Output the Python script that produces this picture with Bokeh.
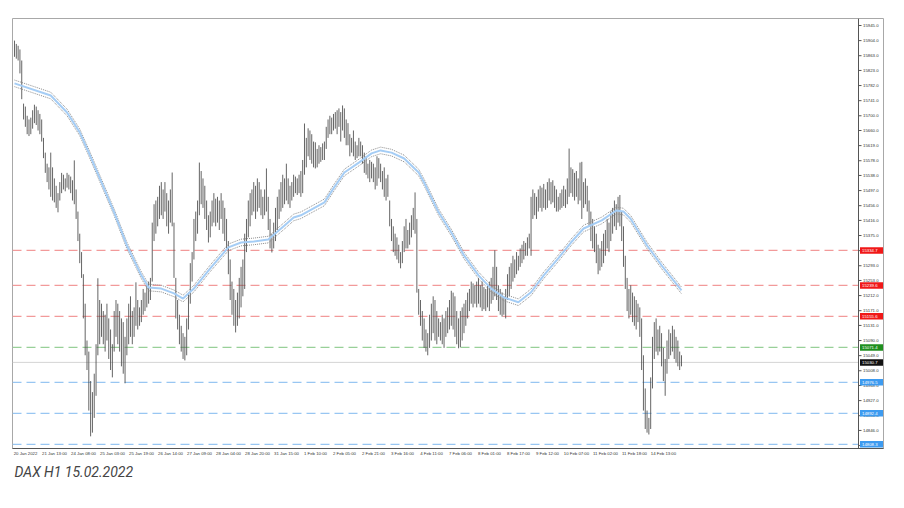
from bokeh.plotting import figure
from bokeh.models import FixedTicker, Range1d, Title, ColumnDataSource
from bokeh.core.properties import value
from bokeh.embed import file_html
from bokeh.resources import INLINE

# ---- data (DAX H1 bars, index = hourly bar number) ----
highs = [
    15904, 15895, 15890, 15880, 15850,
    15733, 15725, 15700, 15690, 15695, 15715, 15730, 15725, 15715, 15705, 15690,
    15640, 15600, 15570, 15560, 15600, 15560, 15530, 15510, 15490, 15520, 15545, 15540, 15530, 15545, 15540, 15535, 15525, 15579,
    15500, 15440, 15380, 15330, 15270, 15190, 15090, 15060, 14980, 14950,
    15000, 15080, 15259, 15200, 15190, 15170, 15160, 15190, 15150, 15120, 15080, 15170, 15200, 15190, 15170, 15150, 15140, 15100, 15150, 15190, 15210, 15170, 15180,
    15248, 15200, 15180, 15200, 15230, 15220, 15240, 15250, 15260,
    15410, 15460, 15470, 15480, 15510, 15520, 15500, 15520, 15490, 15470, 15500, 15546, 15410,
    15260, 15200, 15160, 15130, 15110, 15100, 15150, 15220, 15300, 15330, 15420, 15440, 15470, 15573, 15550,
    15530, 15510, 15470, 15430, 15440, 15470, 15490, 15475, 15480, 15470, 15490, 15470, 15450, 15420,
    15360, 15310, 15250, 15230, 15200, 15220, 15260, 15290, 15310, 15380, 15420, 15470,
    15490, 15500, 15520, 15510, 15530, 15520, 15500, 15480, 15500, 15557, 15480, 15420, 15380, 15410,
    15450, 15480, 15500, 15520, 15540, 15530, 15570, 15530, 15510, 15520, 15540, 15535, 15530, 15540, 15550,
    15580, 15679, 15640, 15666, 15660, 15650, 15630, 15628, 15610, 15620, 15615, 15625, 15630,
    15670, 15690, 15700, 15695, 15705, 15710, 15715, 15720, 15710, 15728, 15720,
    15690, 15680, 15650, 15640, 15660, 15630, 15620, 15640, 15630, 15620,
    15600, 15590, 15570, 15580, 15575, 15570, 15560, 15590, 15585, 15570, 15550, 15560, 15530, 15540,
    15470, 15420, 15400, 15380, 15370, 15350, 15330, 15360, 15400, 15420, 15390, 15410, 15430, 15450, 15492,
    15420, 15230, 15200, 15170, 15150, 15120, 15110,
    15160, 15190, 15210, 15200, 15170, 15150, 15140, 15160, 15150, 15170, 15180, 15200, 15225, 15220, 15210, 15170, 15150, 15170, 15180,
    15190, 15200, 15220, 15230, 15250, 15245, 15240, 15250, 15260, 15240, 15250, 15235, 15230, 15240, 15250, 15260, 15290, 15335, 15290,
    15240, 15230, 15220, 15210, 15230,
    15270, 15290, 15300, 15320, 15310, 15330, 15320, 15340, 15350, 15360, 15355, 15370, 15380,
    15480, 15500, 15490, 15480, 15500, 15510, 15505, 15515, 15500, 15520, 15530, 15520, 15525, 15510, 15500, 15480, 15490, 15500, 15510, 15500,
    15530, 15611, 15560, 15555, 15545, 15550, 15530, 15573, 15575, 15520, 15530, 15510, 15470,
    15440, 15420, 15400, 15380, 15350, 15340, 15360, 15380, 15390, 15420, 15410, 15440, 15450, 15470, 15460, 15480, 15485,
    15440, 15400, 15320, 15260, 15230, 15240, 15220, 15210, 15200, 15190, 15180, 15150, 15050, 14960, 14900, 14880,
    14990, 15100, 15140, 15150, 15120, 15130, 15110, 15070, 15040, 15090, 15120, 15110, 15130, 15120, 15100, 15090, 15060, 15050,
]
lows = [
    15860, 15855, 15850, 15815, 15745,
    15690, 15670, 15650, 15645, 15650, 15665, 15680, 15675, 15660, 15650, 15630,
    15585, 15545, 15520, 15500, 15480, 15470, 15465, 15450, 15438, 15470, 15490, 15500, 15495, 15505, 15500, 15490, 15470, 15460,
    15420, 15360, 15300, 15260, 15150, 15050, 15010, 14900, 14830, 14840,
    14880, 14940, 15050, 15080, 15100, 15080, 15060, 15090, 15040, 15010, 14990, 15060, 15100, 15080, 15060, 15020, 15000, 14974, 15050, 15080, 15100, 15080, 15100,
    15130, 15120, 15130, 15140, 15160, 15170, 15180, 15190, 15200,
    15250, 15360, 15380, 15400, 15420, 15430, 15420, 15440, 15400, 15380, 15410, 15400, 15260,
    15150, 15120, 15080, 15060, 15040, 15036, 15050, 15120, 15190, 15250, 15310, 15360, 15380, 15430, 15460,
    15450, 15420, 15390, 15356, 15370, 15400, 15410, 15400, 15410, 15390, 15420, 15380, 15360, 15340,
    15270, 15200, 15160, 15130, 15112, 15130, 15150, 15180, 15210, 15230, 15330, 15370,
    15400, 15430, 15440, 15420, 15440, 15450, 15430, 15420, 15430, 15440, 15390, 15340, 15329, 15340,
    15360, 15390, 15420, 15440, 15450, 15460, 15470, 15460, 15450, 15470, 15480, 15490, 15485, 15490, 15480,
    15490, 15540, 15560, 15590, 15580, 15570, 15560, 15557, 15560, 15570, 15575, 15580, 15580,
    15610, 15640, 15650, 15650, 15660, 15665, 15650, 15670, 15630, 15660, 15640,
    15620, 15620, 15590, 15600, 15590, 15580, 15585, 15590, 15590, 15570,
    15545, 15540, 15530, 15520, 15530, 15520, 15500, 15510, 15530, 15520, 15500, 15480, 15470, 15480,
    15400, 15360, 15330, 15320, 15310, 15300, 15286, 15300, 15330, 15340, 15340, 15350, 15370, 15390, 15380,
    15220, 15160, 15130, 15090, 15070, 15060, 15050,
    15070, 15090, 15110, 15090, 15080, 15100, 15090, 15080, 15070, 15100, 15110, 15120, 15130, 15120, 15100, 15080, 15069, 15072, 15090,
    15110, 15130, 15150, 15170, 15190, 15180, 15190, 15180, 15190, 15180, 15170, 15175, 15170, 15180, 15170, 15190, 15200, 15210, 15200,
    15170, 15160, 15155, 15160, 15150,
    15200, 15210, 15230, 15250, 15260, 15270, 15280, 15290, 15300, 15310, 15320, 15320, 15340,
    15320, 15420, 15430, 15420, 15440, 15450, 15440, 15450, 15445, 15450, 15470, 15460, 15465, 15450, 15440, 15440, 15445, 15450, 15455, 15450,
    15460, 15480, 15490, 15480, 15470, 15480, 15460, 15470, 15420, 15450, 15460, 15440, 15400,
    15360, 15340, 15330, 15300, 15270, 15280, 15290, 15300, 15320, 15340, 15330, 15360, 15380, 15400, 15390, 15410, 15400,
    15360, 15290, 15230, 15170, 15150, 15160, 15140, 15130, 15120, 15140, 15100, 15010, 14900, 14850, 14840, 14835,
    14850, 14960, 15040, 15060, 15050, 15060, 15020, 14980, 14940, 15000, 15040, 15050, 15060, 15040, 15030, 15020, 15010, 15020,
]

# moving average (read at sample bars) and envelope deviation
ma_idx = [0, 20, 29, 36, 41, 48, 55, 62, 70, 74, 81, 88, 93, 99, 108, 118, 125, 132, 140, 149,
          154, 158, 171, 176, 182, 190, 197, 202, 208, 215, 223, 226, 234, 241, 248, 256, 263, 270,
          278, 285, 292, 300, 307, 314, 324, 332, 336, 340, 349, 357, 368]
ma_val = [15788, 15755, 15709, 15655, 15600, 15519, 15438, 15348, 15267, 15234, 15231, 15218, 15204,
          15231, 15286, 15343, 15356, 15359, 15364, 15402, 15424, 15430, 15465, 15503, 15546, 15573,
          15598, 15606, 15600, 15584, 15546, 15519, 15438, 15383, 15321, 15267, 15231, 15207, 15194,
          15221, 15267, 15313, 15356, 15394, 15416, 15443, 15440, 15420, 15348, 15294, 15226]
ENV_DEV = 9.0

# horizontal levels
res_levels = [15334.7, 15239.6, 15155.6]
pivot_level = 15071.4
current_price = 15030.7
sup_levels = [14976.5, 14892.4, 14808.3]

x_labels = ["20 Jan 2022", "21 Jan 13:00", "24 Jan 08:00", "25 Jan 03:00", "25 Jan 19:00",
            "26 Jan 14:00", "27 Jan 09:00", "28 Jan 04:00", "28 Jan 20:00", "31 Jan 15:00",
            "1 Feb 10:00", "2 Feb 05:00", "2 Feb 21:00", "3 Feb 16:00", "4 Feb 11:00",
            "7 Feb 06:00", "8 Feb 01:00", "8 Feb 17:00", "9 Feb 12:00", "10 Feb 07:00",
            "11 Feb 02:00", "11 Feb 18:00", "14 Feb 13:00"]
BARS_PER_LABEL = 16
y_labels = ["14805.0", "14846.0", "14886.0", "14927.0", "14968.0", "15008.0", "15049.0",
            "15090.0", "15131.0", "15171.0", "15212.0", "15253.0", "15293.0", "15334.0",
            "15375.0", "15416.0", "15456.0", "15497.0", "15538.0", "15578.0", "15619.0",
            "15660.0", "15700.0", "15741.0", "15782.0", "15823.0", "15863.0", "15904.0", "15945.0"]

# ---- layout constants (pixels) ----
FONT = "Liberation Sans"
BAR_PX = 1.8125          # horizontal pixels per bar
FRAME_W = 871            # frame incl. price-scale strip
CHART_W = 846            # chart area left of the price scale
X0 = -1.1


def px(n):
    return n / BAR_PX


x_end = X0 + px(FRAME_W)
AXIS_X = X0 + px(CHART_W)

p = figure(width=904, height=508, output_backend="svg", toolbar_location=None,
           x_range=Range1d(X0, x_end), y_range=Range1d(14797, 15964),
           y_axis_location=None,
           min_border_left=12, min_border_top=18, min_border_right=904 - 12 - FRAME_W,
           min_border_bottom=60)
p.grid.visible = False
p.outline_line_color = "#a8a8a8"
p.background_fill_color = "white"
p.border_fill_color = "white"

idx = list(range(len(highs)))

# level lines (stop at the price scale)
def level(lv, color, dash, width=1.4):
    p.segment(x0=[X0], y0=[lv], x1=[AXIS_X], y1=[lv], line_color=color, line_width=width,
              line_dash=dash)

for lv in res_levels:
    level(lv, "#f29a9a", "9 5")
level(pivot_level, "#98d098", "9 5")
level(current_price, "#d4d4d4", "solid", 1)
for lv in sup_levels:
    level(lv, "#98c6f2", "9 5")

# bars
p.segment(x0=idx, y0=lows, x1=idx, y1=highs, line_color="#4a4a4a", line_width=1, line_alpha=0.85)

# moving average with envelopes
p.line(ma_idx, [v + ENV_DEV for v in ma_val], line_color="#8c8c8c", line_width=1, line_dash="1 1")
p.line(ma_idx, [v - ENV_DEV for v in ma_val], line_color="#8c8c8c", line_width=1, line_dash="1 1")
p.line(ma_idx, ma_val, line_color="#a5cdf5", line_width=2)

# price scale drawn inside the strip on the right
yt = [float(s) for s in y_labels]
p.segment(x0=[AXIS_X], y0=[14797], x1=[AXIS_X], y1=[15964], line_color="#555555", line_width=1)
p.segment(x0=[AXIS_X] * len(yt), y0=yt, x1=[AXIS_X + px(3)] * len(yt), y1=yt,
          line_color="#555555", line_width=1)
p.text(x=[AXIS_X + px(4.5)] * len(yt), y=yt, text=y_labels, text_font=value(FONT),
       text_font_size="4.3px", text_color="#333333", text_baseline="middle", text_align="left")

# coloured price tags
tag_src = ColumnDataSource(dict(
    y=res_levels + [pivot_level, current_price] + sup_levels,
    text=[f"{v:.1f}" for v in res_levels + [pivot_level, current_price] + sup_levels],
    color=["#f01818"] * len(res_levels) + ["#1f8f1f", "#111111"] + ["#3d9bf0"] * len(sup_levels),
))
p.rect(x=AXIS_X + px(13), y="y", width=23, height=6.5, width_units="screen",
       height_units="screen", fill_color="color", line_color=None, source=tag_src)
p.text(x=AXIS_X + px(3.5), y="y", text="text", text_font=value(FONT), text_font_size="4.3px",
       text_color="white", text_baseline="middle", text_align="left", source=tag_src)

# time axis
LABEL_SHIFT = px(11)
p.xaxis.ticker = FixedTicker(ticks=[k * BARS_PER_LABEL + LABEL_SHIFT for k in range(len(x_labels))])
p.xaxis.major_label_overrides = {k * BARS_PER_LABEL + LABEL_SHIFT: t for k, t in enumerate(x_labels)}
p.xaxis.major_label_text_font = FONT
p.xaxis.major_label_text_font_size = "4.3px"
p.xaxis.major_label_text_color = "#333333"
p.xaxis.major_label_standoff = 2
p.xaxis.major_tick_out = 0
p.xaxis.major_tick_in = 0
p.xaxis.minor_tick_out = 0
p.xaxis.minor_tick_in = 0
p.xaxis.axis_line_color = "#555555"

cap = Title(text="DAX H1 15.02.2022", align="left", text_font="Roboto",
            text_font_style="italic", text_font_size="14px", text_color="#444444",
            offset=2, standoff=7)
p.add_layout(cap, "below")

open("out.html", "w").write(file_html(p, INLINE))
